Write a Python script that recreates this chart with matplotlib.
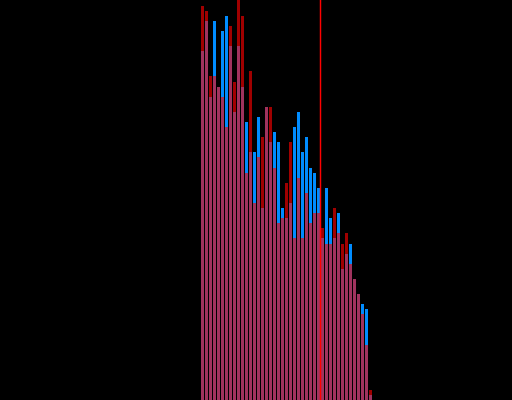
import matplotlib
matplotlib.use("Agg")
import matplotlib.pyplot as plt
import numpy as np

bins = list(range(43))
red_counts = [394, 389, 324, 324, 313, 303, 273, 374, 318, 405, 384, 227, 329, 197, 243,
              263, 293, 293, 232, 177, 182, 217, 258, 162, 222, 162, 207, 177, 187, 187,
              172, 156, 156, 192, 167, 156, 167, 136, 121, 106, 86, 55, 10]
blue_counts = [349, 379, 303, 379, 313, 369, 384, 354, 288, 354, 313, 278, 248, 248, 283,
               192, 293, 258, 268, 258, 192, 182, 197, 273, 288, 248, 263, 232, 227, 212,
               162, 212, 182, 162, 187, 131, 146, 156, 121, 106, 96, 91, 5]
marker_x = 29.5

fig = plt.figure(figsize=(5.12, 4.0), dpi=100, facecolor="black")
ax = fig.add_axes([0, 0, 1, 1])
ax.set_facecolor("black")

ax.bar(bins, blue_counts, width=0.75, color="#008cff", linewidth=0)
ax.bar(bins, red_counts, width=0.75, color="#ff0000", alpha=0.63, linewidth=0)
ax.axvline(marker_x, color="#ff0000", linewidth=1.05, snap=False)

ax.set_xlim(-50.625, 77.375)
ax.set_ylim(0, 400)
ax.axis("off")

fig.savefig("out.png", dpi=100, facecolor="black")
